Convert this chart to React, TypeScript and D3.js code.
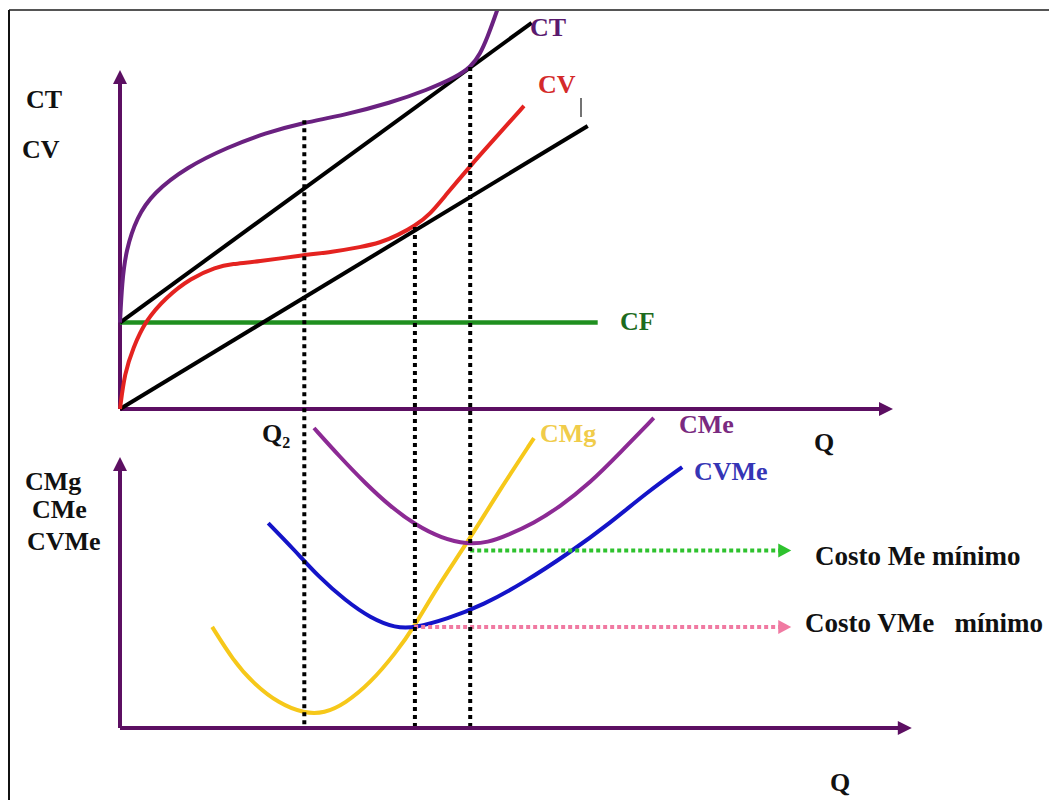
import React from "react";
import * as d3 from "d3";

type Pt = [number, number];

// Upper panel: quantity (Q) vs. total costs
const ctCurve: Pt[] = [
  [0, 25.5], [0.26, 37.2], [0.78, 46.9], [2.2, 56.6], [4.3, 63.7], [8.7, 71.4],
  [14.1, 77.3], [18.9, 81.4], [23.8, 84.4], [29.2, 86.7], [35.2, 90.3], [40, 94.1],
  [43.75, 97.9], [45.7, 100.9], [46.9, 104.7], [47.9, 110.0], [48.8, 115.6], [49.35, 119.2],
  [49.8, 122],
];
const cvCurve: Pt[] = [
  [0, 0], [0.6, 10.6], [1.7, 18.0], [3.3, 26.0], [6.0, 33.0], [9.2, 38.6],
  [12.5, 41.9], [14.6, 42.8], [17.8, 43.4], [23.8, 45.4], [27.6, 46.3], [31.4, 47.8],
  [33.85, 49.0], [36.2, 51.3], [38.4, 54.0], [40.4, 57.5], [42.3, 62.8], [45.6, 71.7],
  [49.2, 80.8], [52.6, 89.4],
];
const ctRay: Pt[] = [[0, 25.5], [53.6, 113.9]];
const cvRay: Pt[] = [[0, 0], [60.9, 83.5]];
const cfLevel: Pt[] = [[0, 25.5], [62.2, 25.5]];

// Lower panel: quantity (Q) vs. marginal / average costs
const cmeCurve: Pt[] = [
  [25.26, 110.7], [28.65, 100.0], [31.9, 90.4], [35.3, 81.5], [38.5, 74.9],
  [41.9, 70.0], [45.2, 67.8], [47.9, 68.4], [50.5, 71.2], [53.9, 75.6],
  [57.2, 81.5], [61.2, 90.4], [65.1, 101.5], [69.5, 114.4],
];
const cvmeCurve: Pt[] = [
  [19.3, 75.6], [22.7, 65.7], [25.9, 55.7], [29.3, 47.2], [32.6, 40.6],
  [35.9, 36.9], [38.3, 36.9], [42.6, 40.2], [47.3, 45.4], [52.5, 53.5],
  [58.5, 64.6], [63.8, 75.6], [68.5, 86.7], [73.2, 96.3],
];
const cmgCurve: Pt[] = [
  [12.0, 37.3], [14.7, 25.1], [17.3, 16.6], [20.7, 9.0], [24.0, 5.4],
  [26.6, 5.4], [29.3, 9.0], [32.6, 16.6], [35.9, 27.7], [38.3, 37.3],
  [41.3, 52.0], [45.2, 68.3], [49.2, 86.7], [53.9, 107.0],
];

// Vertical guides: quantity and the upper-panel cost where each starts
const guideQ = [24, 38.4, 45.6];
const guideTop = [85.2, 53.7, 100.9];

// Minimum-cost arrows: [start Q, level, end Q]
const cmeMinArrow: [number, number, number] = [45.6, 65.5, 87.4];
const cvmeMinArrow: [number, number, number] = [38.3, 37.3, 87.4];

const axisEndTop = 100.65;
const axisEndBottom = 103.1;

const x = d3.scaleLinear().domain([0, 100]).range([120, 888]);
const yTop = d3.scaleLinear().domain([0, 100]).range([409, 70]);
const yBot = d3.scaleLinear().domain([0, 100]).range([728, 457]);

const smooth = d3.curveBasis;
const lineTop = d3.line<Pt>().x((d) => x(d[0])).y((d) => yTop(d[1])).curve(smooth);
const lineBot = d3.line<Pt>().x((d) => x(d[0])).y((d) => yBot(d[1])).curve(smooth);
const straightTop = d3.line<Pt>().x((d) => x(d[0])).y((d) => yTop(d[1]));

const AXIS = "#5c0f62";
const FONT = "Liberation Serif, Tinos, DejaVu Serif, Times New Roman, serif";

function arrowRight(tipX: number, y: number, len = 14, half = 7) {
  return `M${tipX},${y} L${tipX - len},${y - half} L${tipX - len},${y + half} Z`;
}
function arrowUp(xPos: number, tipY: number, len = 14, half = 7) {
  return `M${xPos},${tipY} L${xPos - half},${tipY + len} L${xPos + half},${tipY + len} Z`;
}

const Label = (p: { x: number; y: number; fill?: string; size?: number; children: React.ReactNode }) => (
  <text
    x={p.x}
    y={p.y}
    fill={p.fill ?? "#111"}
    style={{
      whiteSpace: "pre",
      fontFamily: FONT,
      fontWeight: 700,
      fontSize: `${p.size ?? 26}px`,
    }}
  >
    {p.children}
  </text>
);

export default function App() {
  const x0 = x(0);
  const topTip = x(axisEndTop);
  const botTip = x(axisEndBottom);
  const ay0 = yTop(0);
  const by0 = yBot(0);

  return (
    <svg
      width={1049}
      height={800}
      style={{ position: "absolute", left: 0, top: 0, background: "#fff" }}
    >
      <defs>
        <clipPath id="frame">
          <rect x={10} y={11} width={1039} height={789} />
        </clipPath>
      </defs>

      {/* frame */}
      <line x1={9} y1={10} x2={1049} y2={10} stroke="#555" strokeWidth={2} />
      <line x1={9} y1={10} x2={9} y2={800} stroke="#111" strokeWidth={2} />

      <g clipPath="url(#frame)">
        {/* upper axes */}
        <line x1={x0} y1={ay0} x2={topTip - 10} y2={ay0} stroke={AXIS} strokeWidth={4} />
        <path d={arrowRight(topTip, ay0)} fill={AXIS} />
        <line x1={x0} y1={ay0} x2={x0} y2={yTop(100) + 10} stroke={AXIS} strokeWidth={4} />
        <path d={arrowUp(x0, yTop(100))} fill={AXIS} />

        {/* lower axes */}
        <line x1={x0} y1={by0} x2={botTip - 10} y2={by0} stroke={AXIS} strokeWidth={4} />
        <path d={arrowRight(botTip, by0)} fill={AXIS} />
        <line x1={x0} y1={by0} x2={x0} y2={yBot(100) + 10} stroke={AXIS} strokeWidth={4} />
        <path d={arrowUp(x0, yBot(100))} fill={AXIS} />

        {/* upper panel */}
        <path d={straightTop(cfLevel) ?? ""} stroke="#1f8f1f" strokeWidth={4.5} fill="none" />
        <path d={straightTop(ctRay) ?? ""} stroke="#000" strokeWidth={4} fill="none" />
        <path d={straightTop(cvRay) ?? ""} stroke="#000" strokeWidth={4} fill="none" />
        <path d={lineTop(cvCurve) ?? ""} stroke="#e42320" strokeWidth={4} fill="none" />
        <path d={lineTop(ctCurve) ?? ""} stroke="#6a2180" strokeWidth={4} fill="none" />

        {/* lower panel */}
        <path d={lineBot(cmgCurve) ?? ""} stroke="#f6c81a" strokeWidth={4} fill="none" />
        <path d={lineBot(cmeCurve) ?? ""} stroke="#8c2a94" strokeWidth={4} fill="none" />
        <path d={lineBot(cvmeCurve) ?? ""} stroke="#1414c8" strokeWidth={4} fill="none" />

        {/* minimum-cost arrows */}
        {[
          { a: cmeMinArrow, c: "#2ec22e" },
          { a: cvmeMinArrow, c: "#f07aa2" },
        ].map(({ a, c }, i) => (
          <g key={i}>
            <line
              x1={x(a[0])}
              y1={yBot(a[1])}
              x2={x(a[2]) - 12}
              y2={yBot(a[1])}
              stroke={c}
              strokeWidth={4}
              strokeDasharray="4 3"
            />
            <path d={arrowRight(x(a[2]), yBot(a[1]), 13, 7)} fill={c} />
          </g>
        ))}

        {/* dotted guides */}
        {guideQ.map((q, i) => (
          <line
            key={i}
            x1={x(q)}
            y1={yTop(guideTop[i])}
            x2={x(q)}
            y2={by0 - 2}
            stroke="#000"
            strokeWidth={4}
            strokeDasharray="4 4"
          />
        ))}
      </g>

      {/* small tick beside the CV label */}
      <line x1={581} y1={98} x2={581} y2={117} stroke="#444" strokeWidth={1.5} />

      {/* axis titles */}
      <Label x={26} y={108}>CT</Label>
      <Label x={22} y={158}>CV</Label>
      <Label x={25} y={490}>CMg</Label>
      <Label x={32} y={518}>CMe</Label>
      <Label x={27} y={550}>CVMe</Label>
      <Label x={814} y={451}>Q</Label>
      <Label x={830} y={791}>Q</Label>
      <Label x={262} y={442}>
        Q<tspan style={{ fontSize: "16px" }} dy={6}>2</tspan>
      </Label>

      {/* curve labels */}
      <Label x={530} y={36} fill="#5a1a6e">CT</Label>
      <Label x={538} y={93} fill="#d42a2a">CV</Label>
      <Label x={620} y={330} fill="#1d6b1d">CF</Label>
      <Label x={540} y={442} fill="#f0cc4a">CMg</Label>
      <Label x={679} y={433} fill="#7a2a80">CMe</Label>
      <Label x={694} y={480} fill="#3535b5">CVMe</Label>

      {/* arrow annotations */}
      <Label x={815} y={565} size={27}>Costo Me mínimo</Label>
      <Label x={805} y={632} size={27}>Costo VMe   mínimo</Label>
    </svg>
  );
}
